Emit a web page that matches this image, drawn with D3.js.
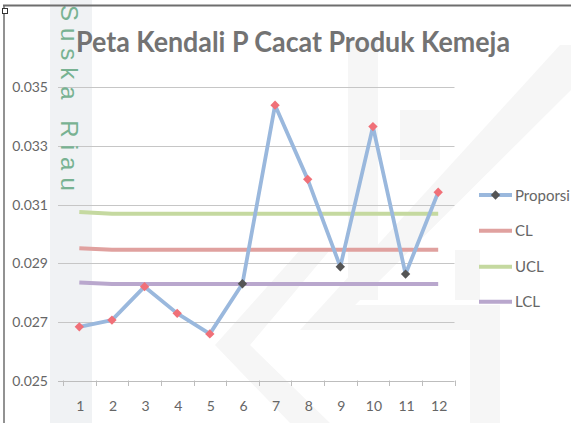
<!DOCTYPE html>
<html><head><meta charset="utf-8">
<script src="https://cdn.jsdelivr.net/npm/d3@7"></script>
<style>html,body{margin:0;padding:0;background:#fff;overflow:hidden}</style>
</head><body>
<svg id="c" width="571" height="423"></svg>
<script>
const categories = [1,2,3,4,5,6,7,8,9,10,11,12];
const proporsi = [0.02683,0.02706,0.02820,0.02729,0.02659,0.02830,0.03439,0.03186,0.02888,0.03366,0.02863,0.03142];
const cl  = [0.02951,0.02946,0.02946,0.02946,0.02946,0.02946,0.02946,0.02946,0.02946,0.02946,0.02946,0.02946];
const ucl = [0.03075,0.03069,0.03069,0.03069,0.03069,0.03069,0.03069,0.03069,0.03069,0.03069,0.03069,0.03069];
const lcl = [0.02834,0.02829,0.02829,0.02829,0.02829,0.02829,0.02829,0.02829,0.02829,0.02829,0.02829,0.02829];
const yTicks = [0.025,0.027,0.029,0.031,0.033,0.035];
const seriesNames = ["Proporsi","CL","UCL","LCL"];
const title = "Peta Kendali P Cacat Produk Kemeja";
const watermarkText = "Suska Riau";

const svg = d3.select("#c");
const font = "Lato, 'Open Sans', sans-serif";

// watermark background
const wm = svg.append("g").attr("fill","#f6f6f6");
wm.append("rect").attr("x",50).attr("y",0).attr("width",42).attr("height",423).attr("fill","#f0f2f4");
const polys = [
  [[348,40],[378,40],[378,300],[348,300]],
  [[560,45],[571,45],[571,90],[330,330],[300,330]],
  [[300,250],[330,250],[250,345],[330,423],[290,423],[215,345]],
  [[330,305],[500,305],[500,330],[330,330]],
  [[470,330],[500,330],[500,423],[470,423]],
  [[400,110],[440,110],[440,160],[400,160]],
  [[455,250],[480,250],[480,300],[455,300]]
];
polys.forEach(p=>wm.append("path").attr("d",d3.line()(p)+"Z"));

const colors = {Proporsi:"#9ab8dd", CL:"#e0a19f", UCL:"#c5d9a0", LCL:"#b9a7cd"};

const x = d3.scaleBand().domain(categories).range([63,454.5]);
const y = d3.scaleLinear().domain([0.025,0.035]).range([380.5,87.3]);
const cx = d => x(d)+x.bandwidth()/2;

// gridlines + y labels
const gy = svg.append("g");
yTicks.forEach(t=>{
  gy.append("line").attr("x1",58).attr("x2",454.5).attr("y1",Math.round(y(t))+0.5).attr("y2",Math.round(y(t))+0.5)
    .attr("stroke",t===0.025?"#bdbdbd":"#c6c6c6").attr("stroke-width",1);
  gy.append("text").attr("x",48).attr("y",y(t)+5).attr("text-anchor","end")
    .attr("font-family",font).attr("font-size",14).attr("fill","#666").text(d3.format(".3f")(t));
});
// x axis ticks
const bounds = categories.map(c=>x(c)).concat([x(12)+x.bandwidth()]);
bounds.forEach(b=>{
  svg.append("line").attr("x1",Math.round(b)+0.5).attr("x2",Math.round(b)+0.5).attr("y1",380.5).attr("y2",386)
    .attr("stroke","#bdbdbd");
});
categories.forEach(c=>{
  svg.append("text").attr("x",cx(c)+1).attr("y",411).attr("text-anchor","middle")
    .attr("font-family",font).attr("font-size",14).attr("fill","#666").text(c);
});

// watermark vertical text
svg.append("text").attr("transform","translate(61,5) rotate(90)")
  .attr("font-family","'Liberation Sans', sans-serif").attr("font-size",24).attr("letter-spacing",7)
  .attr("fill","#78b292").text(watermarkText);

// control lines
const line = d3.line().x((d,i)=>cx(categories[i])).y(d=>y(d));
[["UCL",ucl],["CL",cl],["LCL",lcl]].forEach(([n,arr])=>{
  svg.append("path").attr("d",line(arr)).attr("fill","none").attr("stroke",colors[n]).attr("stroke-width",4);
});
// proporsi
svg.append("path").attr("d",line(proporsi)).attr("fill","none").attr("stroke",colors.Proporsi)
  .attr("stroke-width",3.8).attr("stroke-linejoin","round");
const diamond = d3.symbol().type(d3.symbolDiamond2).size(56);
proporsi.forEach((v,i)=>{
  const out = v < lcl[i] || v > ucl[i];
  svg.append("path").attr("d",diamond()).attr("transform",`translate(${cx(categories[i])},${y(v)})`)
    .attr("fill", out ? "#f07078" : "#555");
});

// title
svg.append("text").attr("x",293).attr("y",52).attr("text-anchor","middle")
  .attr("font-family",font).attr("font-weight","bold").attr("font-size",29)
  .attr("fill","#737373").attr("textLength",434).attr("lengthAdjust","spacingAndGlyphs").text(title);

// legend
const ly = [195,230.7,266.7,301.7];
seriesNames.forEach((n,i)=>{
  svg.append("line").attr("x1",479).attr("x2",512).attr("y1",ly[i]).attr("y2",ly[i])
    .attr("stroke",colors[n]).attr("stroke-width",n==="Proporsi"?3.8:4);
  if(n==="Proporsi") svg.append("path").attr("d",diamond()).attr("transform",`translate(495.5,${ly[i]})`).attr("fill","#555");
  svg.append("text").attr("x",515).attr("y",ly[i]+5.5).attr("font-family",font).attr("font-size",15)
    .attr("fill","#666").text(n);
});

// frame
svg.append("line").attr("x1",3).attr("x2",571).attr("y1",5.5).attr("y2",5.5).attr("stroke","#6e6e6e").attr("stroke-width",2);
svg.append("line").attr("x1",4).attr("x2",4).attr("y1",5).attr("y2",423).attr("stroke","#6e6e6e").attr("stroke-width",1.5);
svg.append("rect").attr("x",2.5).attr("y",8.5).attr("width",5).attr("height",5).attr("fill","#fff").attr("stroke","#333");
</script>
</body></html>
